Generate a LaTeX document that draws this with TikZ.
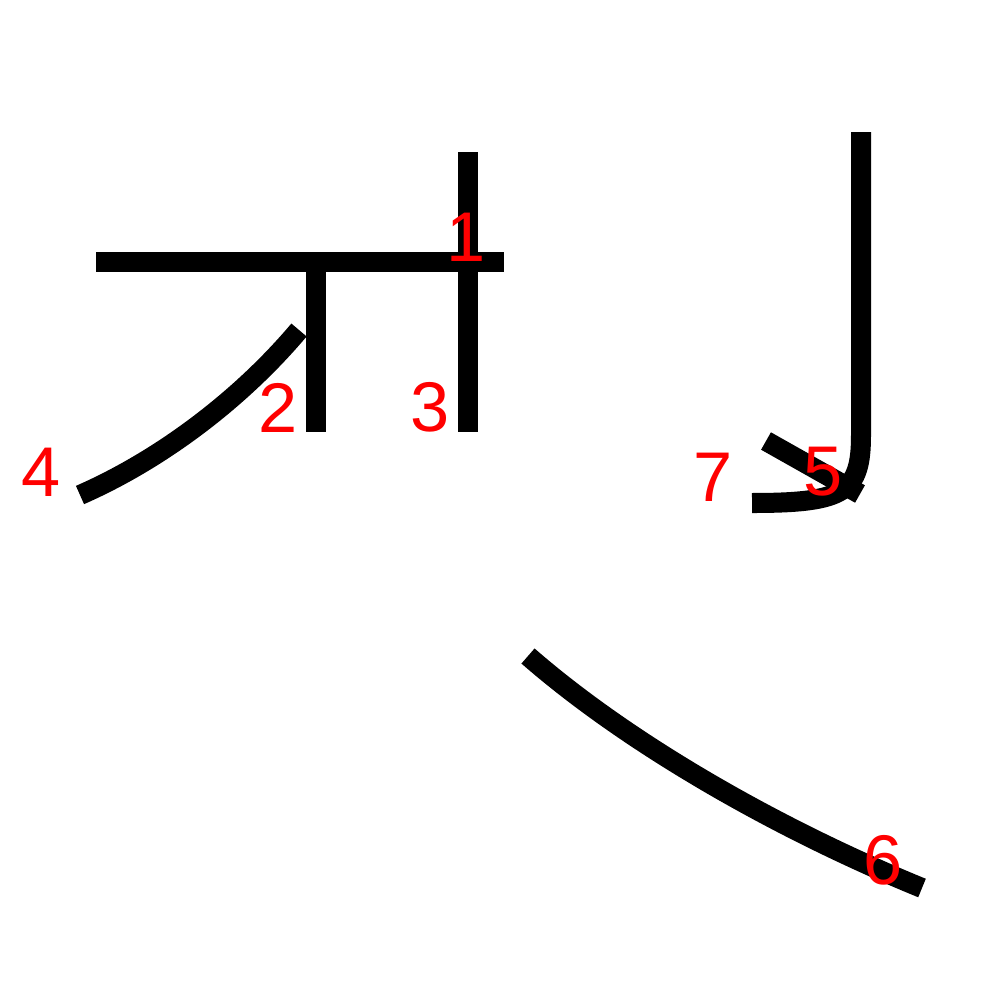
\documentclass[tikz,border=0pt]{standalone}
\usepackage{fontspec}
\setmainfont{Liberation Sans}
\tikzset{
  stroke/.style={line width=0.2cm, black},
  num/.style={text=red, font=\fontsize{20}{20}\selectfont, inner sep=0pt}
}
\begin{document}
\begin{tikzpicture}[x=0.01cm, y=-0.01cm]
\useasboundingbox (0,0) rectangle (1000,1000);

\draw [stroke] (96,262) -- (504,262);%1
\draw [stroke] (316,262) -- (316,432);%2
\draw [stroke] (468,152) -- (468,432);%3
\draw [stroke] (299,330) .. controls (240,400) and (160,460) .. (80,495);%4
\draw [stroke] (861,132) -- (861,435) .. controls (861,492) and (845,503) .. (752,503);%5
\draw [stroke] (528,656) .. controls (630,745) and (780,830) .. (922,888);%6
\draw [stroke] (766,441) -- (860,494);%7

\node [num](one) at (466,237) {1};
\node [num](two) at (278,408) {2};
\node [num](three) at (430,407) {3};
\node [num](four) at (41,472) {4};
\node [num](five) at (823,472) {5};
\node [num](six) at (883,860) {6};
\node [num](seven) at (713,477) {7};
\end{tikzpicture}
\end{document}
